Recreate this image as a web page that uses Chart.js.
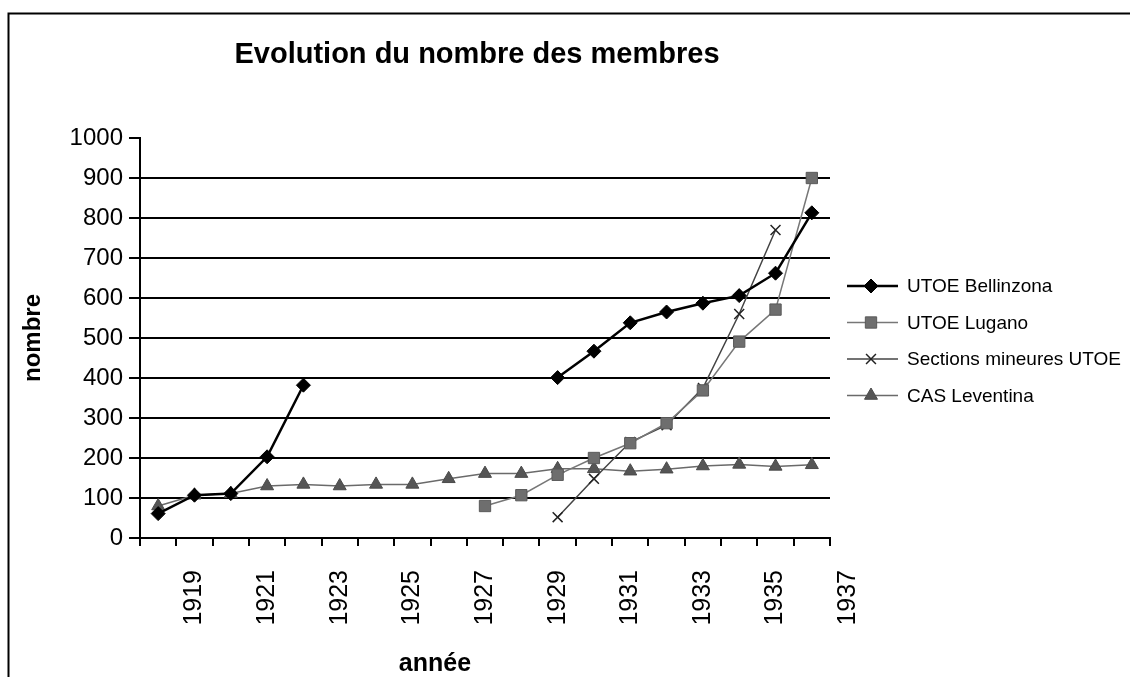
<!DOCTYPE html>
<html>
<head>
<meta charset="utf-8">
<script src="https://cdn.jsdelivr.net/npm/chart.js@4/dist/chart.umd.min.js"></script>
<style>
  body { margin: 0; background: #fff; }
  canvas { display: block; }
</style>
</head>
<body>
<canvas id="membres" width="1130" height="677"></canvas>
<script>
const years = ['1918', '1919', '1920', '1921', '1922', '1923', '1924', '1925', '1926', '1927',
  '1928', '1929', '1930', '1931', '1932', '1933', '1934', '1935', '1936'];
const extraYearLabel = '1937';

const bellinzona = [61, 107, 111, 203, 382, null, null, null, null, null, null, 401, 467, 538, 565, 587, 606, 662, 813];
const lugano = [null, null, null, null, null, null, null, null, null, 80, 107, 158, 200, 237, 287, 369, 491, 571, 900];
const sections = [null, null, null, null, null, null, null, null, null, null, null, 52, 148, 240, 282, 375, 560, 770, null];
const leventina = [80, 107, 111, 130, 134, 130, 134, 134, 148, 161, 161, 173, 173, 167, 172, 180, 184, 179, 183];

const FONT = '"Liberation Sans", Arial, sans-serif';

// title, x title, legend, frame and the cut-off 1937 label
const decorations = {
  id: 'decorations',
  beforeDraw(chart) {
    const ctx = chart.ctx;
    ctx.save();
    ctx.strokeStyle = '#000';
    ctx.lineWidth = 2;
    ctx.beginPath();
    ctx.moveTo(8.5, 677);
    ctx.lineTo(8.5, 13.5);
    ctx.lineTo(1130, 13.5);
    ctx.stroke();
    ctx.restore();
  },
  afterDraw(chart) {
    const ctx = chart.ctx;
    ctx.save();
    ctx.fillStyle = '#000';
    ctx.textAlign = 'center';
    ctx.textBaseline = 'alphabetic';
    ctx.font = 'bold 29px ' + FONT;
    ctx.fillText('Evolution du nombre des membres', 477, 63);
    ctx.font = 'bold 25px ' + FONT;
    ctx.fillText('année', 435, 671);

    const x = chart.scales.x;
    ctx.save();
    ctx.translate(x.getPixelForValue(years.length), x.top + 8 + 24);
    ctx.rotate(-Math.PI / 2);
    ctx.font = '25px ' + FONT;
    ctx.textAlign = 'right';
    ctx.textBaseline = 'middle';
    ctx.fillText(extraYearLabel, 0, 0);
    ctx.restore();

    chart.data.datasets.forEach((ds, i) => {
      const y = 286 + i * 36.5;
      ctx.strokeStyle = ds.borderColor;
      ctx.lineWidth = ds.borderWidth;
      ctx.beginPath();
      ctx.moveTo(847, y);
      ctx.lineTo(898, y);
      ctx.stroke();
      ctx.fillStyle = ds.pointBackgroundColor;
      ctx.strokeStyle = ds.pointBorderColor;
      ctx.lineWidth = ds.pointBorderWidth;
      Chart.helpers.drawPoint(ctx, { pointStyle: ds.pointStyle, radius: ds.pointRadius, rotation: 0, borderWidth: ds.pointBorderWidth }, 871, y);
      ctx.fillStyle = '#000';
      ctx.font = '19px ' + FONT;
      ctx.textAlign = 'left';
      ctx.textBaseline = 'middle';
      ctx.fillText(ds.label, 907, y + 1);
    });
    ctx.restore();
  }
};

new Chart(document.getElementById('membres').getContext('2d'), {
  type: 'line',
  data: {
    labels: years,
    datasets: [
      {
        label: 'UTOE Bellinzona',
        data: bellinzona,
        borderColor: '#000',
        borderWidth: 2.5,
        pointStyle: 'rectRot',
        pointRadius: 7,
        pointBackgroundColor: '#000',
        pointBorderColor: '#000',
        pointBorderWidth: 1,
      },
      {
        label: 'UTOE Lugano',
        data: lugano,
        borderColor: '#777',
        borderWidth: 1.5,
        pointStyle: 'rect',
        pointRadius: 8,
        pointBackgroundColor: '#6e6e6e',
        pointBorderColor: '#5a5a5a',
        pointBorderWidth: 1,
      },
      {
        label: 'Sections mineures UTOE',
        data: sections,
        borderColor: '#444',
        borderWidth: 1.5,
        pointStyle: 'crossRot',
        pointRadius: 7,
        pointBackgroundColor: '#222',
        pointBorderColor: '#222',
        pointBorderWidth: 1.5,
      },
      {
        label: 'CAS Leventina',
        data: leventina,
        borderColor: '#6a6a6a',
        borderWidth: 1.5,
        pointStyle: 'triangle',
        pointRadius: 7.5,
        pointBackgroundColor: '#555',
        pointBorderColor: '#4a4a4a',
        pointBorderWidth: 1,
      },
    ],
  },
  options: {
    responsive: false,
    animation: false,
    events: [],
    layout: { padding: { left: 0, top: 138, right: 300, bottom: 0 } },
    plugins: {
      legend: { display: false },
      title: { display: false },
      tooltip: { enabled: false },
    },
    scales: {
      x: {
        type: 'category',
        offset: true,
        afterFit: (scale) => { scale.height = 139; },
        grid: {
          offset: true,
          drawOnChartArea: false,
          color: '#000',
          lineWidth: 2,
          tickLength: 8,
        },
        border: { display: true, color: '#000', width: 2 },
        ticks: {
          autoSkip: false,
          minRotation: 90,
          maxRotation: 90,
          padding: 24,
          color: '#000',
          font: { family: FONT, size: 25 },
          callback: function (value) {
            const label = this.getLabelForValue(value);
            return Number(label) % 2 === 1 ? label : '';
          },
        },
      },
      y: {
        min: 0,
        max: 1000,
        afterFit: (scale) => { scale.width = 140; },
        ticks: {
          stepSize: 100,
          padding: 6,
          color: '#000',
          font: { family: FONT, size: 24 },
          callback: (value) => String(value),
        },
        grid: {
          color: (c) => (c.tick && c.tick.value === 1000 ? 'rgba(0,0,0,0)' : '#000'),
          tickColor: '#000',
          lineWidth: 2,
          tickLength: 11,
        },
        border: { display: true, color: '#000', width: 2 },
        title: {
          display: true,
          text: 'nombre',
          color: '#000',
          font: { family: FONT, size: 24, weight: 'bold' },
          padding: { top: 19, bottom: 0 },
        },
      },
    },
  },
  plugins: [decorations],
});
</script>
</body>
</html>
